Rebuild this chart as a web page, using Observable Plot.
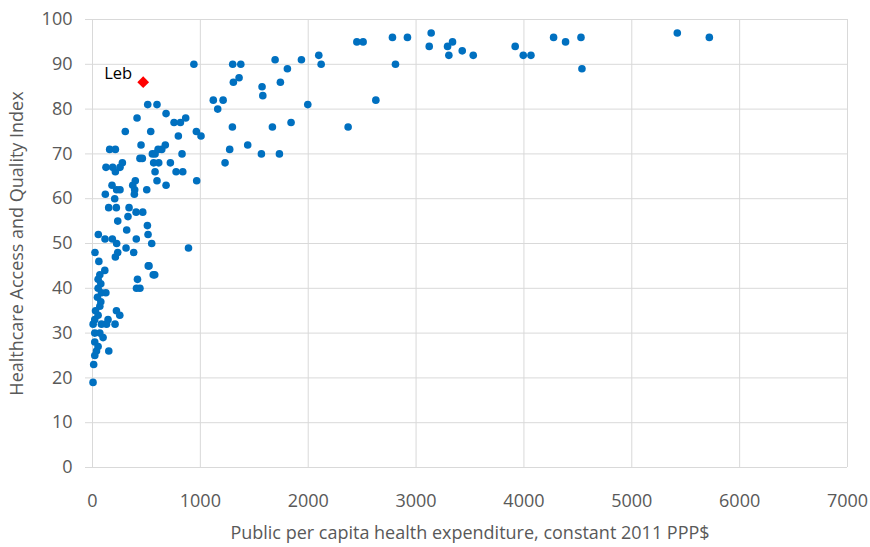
<!DOCTYPE html>
<html>
<head>
<meta charset="utf-8">
<script src="https://cdn.jsdelivr.net/npm/d3@7"></script>
<script src="https://cdn.jsdelivr.net/npm/@observablehq/plot@0.6"></script>
<style>
  html, body { margin: 0; padding: 0; background: #fff; }
  #chart svg { display: block; }
</style>
</head>
<body>
<div id="chart"></div>
<script>
// Public per capita health expenditure (constant 2011 PPP$)
const spending = [
  940,1120,1211,1161,1300,1375,1306,1359,1572,1579,1742,1693,1807,1937,2098,2120,1996,1841,1668,1297,
  963,1006,1439,1272,1229,1566,1733,966,890,2370,2627,2451,2509,2781,2920,2809,3140,3122,3292,3338,
  3304,3428,3530,3919,3994,4065,4275,4386,4529,4538,5422,5719,
  512,598,682,413,756,815,864,304,540,796,450,675,642,608,555,580,159,212,830,440,
  462,567,614,722,277,255,125,187,212,580,775,837,598,682,397,373,391,503,181,224,
  255,119,206,388,150,221,339,329,404,466,234,509,317,515,54,116,184,406,
  224,311,549,23,234,212,382,524,577,
  59,114,68,52,77,52,124,83,46,77,68,28,222,253,52,144,21,130,209,6,
  83,21,68,98,21,52,151,37,21,11,5,417,408,440,517,563
];
// Healthcare Access and Quality Index
const haqIndex = [
  90,82,82,80,90,90,86,87,85,83,86,91,89,91,92,90,81,77,76,76,
  75,74,72,71,68,70,70,64,49,76,82,95,95,96,96,90,97,94,94,95,
  92,93,92,94,92,92,96,95,96,89,97,96,
  81,81,79,78,77,77,78,75,75,74,72,72,71,71,70,70,71,71,70,69,
  69,68,68,68,68,67,67,67,66,66,66,66,64,63,64,63,62,62,63,62,
  62,61,60,61,58,58,58,56,57,57,55,54,53,52,52,51,51,51,
  50,49,50,48,48,47,48,45,43,
  46,44,43,42,41,40,39,39,38,37,36,35,35,34,34,33,33,32,32,32,
  32,30,30,29,28,27,26,26,25,23,19,42,40,40,45,43
];
const highlightName = ["Leb"];
const highlightSpending = [470];
const highlightIndex = [86];

const xTicks = [0,1000,2000,3000,4000,5000,6000,7000];
const yTicks = [0,10,20,30,40,50,60,70,80,90,100];
const xLabel = "Public per capita health expenditure, constant 2011 PPP$";
const yLabel = "Healthcare Access and Quality Index";

const points = spending.map((s, i) => ({s, v: haqIndex[i]}));
const highlight = highlightName.map((n, i) => ({n, s: highlightSpending[i], v: highlightIndex[i]}));

const font = "'Open Sans', sans-serif";
const grid = "#d9d9d9";
const textColor = "#595959";

const chart = Plot.plot({
  width: 870,
  height: 547,
  marginLeft: 92,
  marginRight: 23,
  marginTop: 19,
  marginBottom: 80,
  style: {fontFamily: font, background: "#fff"},
  x: {domain: [0, 7000], ticks: xTicks},
  y: {domain: [0, 100], ticks: yTicks},
  marks: [
    Plot.gridX(xTicks, {stroke: grid, strokeOpacity: 1, strokeWidth: 1}),
    Plot.gridY(yTicks, {stroke: grid, strokeOpacity: 1, strokeWidth: 1}),
    Plot.axisX(xTicks, {tickSize: 0, tickPadding: 27, fill: textColor, fontSize: 18, label: null, tickFormat: d => String(d)}),
    Plot.axisY(yTicks, {tickSize: 7, stroke: grid, strokeOpacity: 1, tickPadding: 13, fill: textColor, fontSize: 18, label: null, tickFormat: d => String(d)}),
    Plot.text([xLabel], {frameAnchor: "bottom", dy: 71, fill: textColor, fontSize: 18}),
    Plot.text([yLabel], {frameAnchor: "left", textAnchor: "middle", rotate: -90, dx: -75, fill: textColor, fontSize: 18}),
    Plot.dot(points, {x: "s", y: "v", r: 3.8, fill: "#0070c0", stroke: "none"}),
    Plot.dot(highlight, {x: "s", y: "v", symbol: "diamond2", r: 5.3, fill: "#ff0000", stroke: "none"}),
    Plot.text(highlight, {x: "s", y: "v", text: "n", dx: -25, dy: -9, fill: "#000", fontSize: 16.5})
  ]
});
document.getElementById("chart").appendChild(chart);
</script>
</body>
</html>
